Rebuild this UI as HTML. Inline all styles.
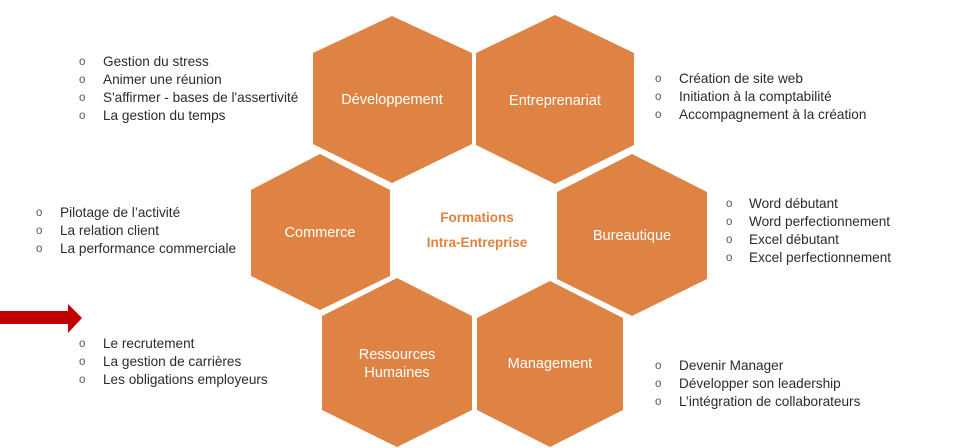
<!DOCTYPE html>
<html><head><meta charset="utf-8"><style>
html,body{margin:0;padding:0;background:#fff;}
svg{display:block;}
text{font-family:"Liberation Sans",sans-serif;}
.l{font-size:13.6px;fill:#2b2b2b;}
.b{font-size:11.5px;fill:#555;}
.h{font-size:14.5px;fill:#fff;text-anchor:middle;}
</style></head><body>
<svg width="979" height="448" viewBox="0 0 979 448" xmlns="http://www.w3.org/2000/svg">
<g fill="#DF8344">
<polygon points="392,16 472,53 472,144 392,183 313,144 313,53"/>
<polygon points="555,15 634,53 634,145 555,184 476,145 476,53"/>
<polygon points="320,154 390,190 390,276 320,310 251,276 251,190"/>
<polygon points="632,154 707,192 707,279 632,316 557,279 557,192"/>
<polygon points="397,278 472,316 472,410 397,447 322,410 322,316"/>
<polygon points="550,281 623,318 623,410 550,447 477,410 477,318"/>
</g>
<text class="h" x="392" y="104">Développement</text>
<text class="h" x="555" y="105">Entreprenariat</text>
<text class="h" x="320" y="237">Commerce</text>
<text class="h" x="632" y="240">Bureautique</text>
<text class="h" x="397" y="359">Ressources</text>
<text class="h" x="397" y="377">Humaines</text>
<text class="h" x="550" y="368">Management</text>
<text x="477" y="222" text-anchor="middle" font-size="13.5" font-weight="bold" fill="#E0823F">Formations</text>
<text x="477" y="247" text-anchor="middle" font-size="13.5" font-weight="bold" fill="#E0823F">Intra-Entreprise</text>
<polygon points="0,311 68,311 68,304 82,318 68,333 68,324 0,324" fill="#C00000"/>
<g>
<text class="b" x="79" y="65">o</text><text class="l" x="103" y="66">Gestion du stress</text>
<text class="b" x="79" y="83">o</text><text class="l" x="103" y="84">Animer une réunion</text>
<text class="b" x="79" y="101">o</text><text class="l" x="103" y="102">S'affirmer - bases de l'assertivité</text>
<text class="b" x="79" y="119">o</text><text class="l" x="103" y="120">La gestion du temps</text>

<text class="b" x="36" y="216">o</text><text class="l" x="60" y="217">Pilotage de l’activité</text>
<text class="b" x="36" y="234">o</text><text class="l" x="60" y="235">La relation client</text>
<text class="b" x="36" y="252">o</text><text class="l" x="60" y="253">La performance commerciale</text>

<text class="b" x="79" y="347">o</text><text class="l" x="103" y="348">Le recrutement</text>
<text class="b" x="79" y="365">o</text><text class="l" x="103" y="366">La gestion de carrières</text>
<text class="b" x="79" y="383">o</text><text class="l" x="103" y="384">Les obligations employeurs</text>

<text class="b" x="655" y="82">o</text><text class="l" x="679" y="83">Création de site web</text>
<text class="b" x="655" y="100">o</text><text class="l" x="679" y="101">Initiation à la comptabilité</text>
<text class="b" x="655" y="118">o</text><text class="l" x="679" y="119">Accompagnement à la création</text>

<text class="b" x="726" y="207">o</text><text class="l" x="749" y="208">Word débutant</text>
<text class="b" x="726" y="225">o</text><text class="l" x="749" y="226">Word perfectionnement</text>
<text class="b" x="726" y="243">o</text><text class="l" x="749" y="244">Excel débutant</text>
<text class="b" x="726" y="261">o</text><text class="l" x="749" y="262">Excel perfectionnement</text>

<text class="b" x="655" y="369">o</text><text class="l" x="679" y="370">Devenir Manager</text>
<text class="b" x="655" y="387">o</text><text class="l" x="679" y="388">Développer son leadership</text>
<text class="b" x="655" y="405">o</text><text class="l" x="679" y="406">L’intégration de collaborateurs</text>
</g>
</svg>
</body></html>
